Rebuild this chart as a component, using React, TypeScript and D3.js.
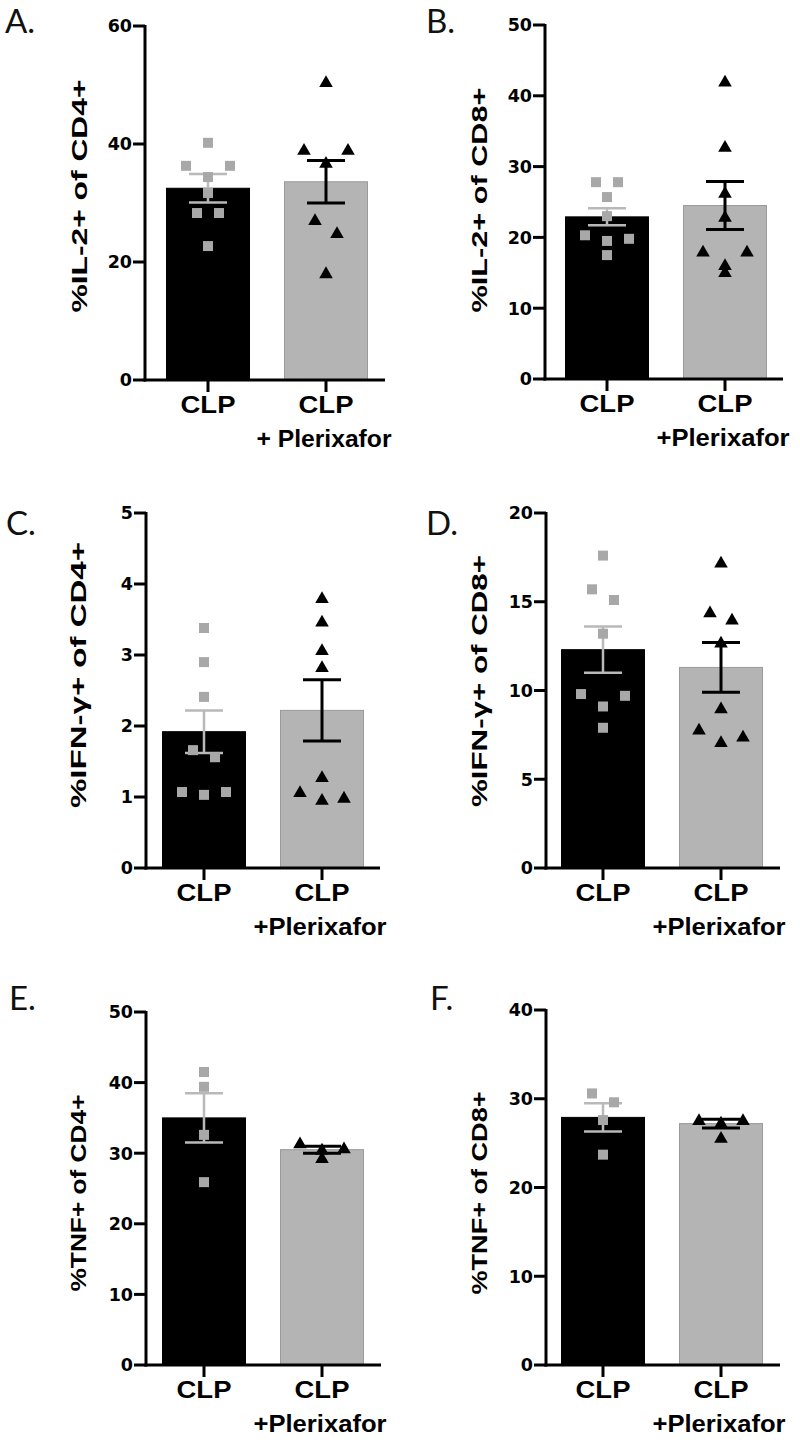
import React from 'react';
import * as d3 from 'd3';

// ---------- data ----------
const categories = ['CLP', 'CLP+Plerixafor'];
const catLine1 = ['CLP', 'CLP'];
const plxLine2 = ['+ Plerixafor', '+Plerixafor', '+Plerixafor', '+Plerixafor', '+Plerixafor', '+Plerixafor'];
const panelLetters = ['A.', 'B.', 'C.', 'D.', 'E.', 'F.'];
const yLabels = [
  '%IL-2+ of CD4+',
  '%IL-2+ of CD8+',
  '%IFN-γ+ of CD4+',
  '%IFN-γ+ of CD8+',
  '%TNF+ of CD4+',
  '%TNF+ of CD8+',
];
const yMax = [60, 50, 5, 20, 50, 40];
const yTickStep = [20, 10, 1, 5, 10, 10];

const clpMean = [32.5, 22.9, 1.92, 12.3, 35.0, 27.9];
const clpSem = [2.4, 1.2, 0.3, 1.3, 3.5, 1.6];
const plxMean = [33.6, 24.5, 2.22, 11.3, 30.5, 27.2];
const plxSem = [3.6, 3.4, 0.43, 1.4, 0.5, 0.5];

const clpPoints = [
  [40.2, 36.3, 36.3, 34.4, 31.7, 28.3, 28.3, 22.7],
  [27.8, 27.8, 25.7, 23.0, 20.3, 19.8, 19.5, 17.5],
  [3.38, 2.9, 2.41, 1.66, 1.56, 1.07, 1.03, 1.07],
  [17.6, 15.7, 15.1, 13.2, 9.8, 9.7, 9.1, 7.9],
  [41.5, 39.4, 32.6, 25.9],
  [30.6, 29.6, 27.6, 23.7],
];
const plxPoints = [
  [50.5, 39.0, 39.0, 36.8, 27.1, 24.9, 18.1],
  [42.0, 32.8, 26.3, 22.9, 18.0, 18.0, 16.1, 15.1],
  [3.8, 3.47, 3.07, 2.83, 1.28, 1.07, 0.99, 0.96],
  [17.2, 14.4, 14.0, 12.7, 9.0, 7.8, 7.4, 7.1],
  [31.4, 30.7, 30.5, 29.3],
  [27.6, 27.6, 27.3, 25.6],
];

// ---------- layout (positions / sizes) ----------
const layouts = [
  { axisX: 145, y0: 380, yTop: 26, c: [208, 326], xEnd: 385, lx: 5, ly: 33, labX: 87, labY: 196, labLen: 233, l2Len: 135 },
  { axisX: 545, y0: 379, yTop: 25, c: [607, 725], xEnd: 783, lx: 426, ly: 33, labX: 487, labY: 200, labLen: 225, l2Len: 133 },
  { axisX: 146, y0: 868, yTop: 513, c: [204, 322], xEnd: 380, lx: 6, ly: 535, labX: 86, labY: 675, labLen: 266, l2Len: 133 },
  { axisX: 546, y0: 868, yTop: 513, c: [603, 721], xEnd: 780, lx: 426, ly: 535, labX: 487, labY: 681, labLen: 252, l2Len: 133 },
  { axisX: 146, y0: 1365, yTop: 1012, c: [204, 322], xEnd: 381, lx: 9, ly: 1010, labX: 86, labY: 1193, labLen: 197, l2Len: 133 },
  { axisX: 546, y0: 1365, yTop: 1010, c: [603, 721], xEnd: 780, lx: 430, ly: 1010, labX: 487, labY: 1193, labLen: 203, l2Len: 133 },
];

const BAR_W = 83;
const CAP_W = 38;
const STEP = 22;
const ROW_TOL = 14;
const CLP_BAR = '#000000';
const PLX_BAR = '#b4b4b4';
const SQ_COLOR = '#a8a8a8';
const BOLD_FONT = "'Liberation Sans', Arial, sans-serif";
const TICK_FONT = "'DejaVu Sans', sans-serif";

// simple row-based scatter arrangement (points within one marker height share a row)
function swarm(values: number[], y: (v: number) => number) {
  const idx = values.map((v, i) => i).sort((a, b) => values[b] - values[a]);
  const offsets = new Array(values.length).fill(0);
  let row: number[] = [];
  const flush = () => {
    const n = row.length;
    // put the lowest value of an odd row in the centre, others on the sides
    const order = n % 2 === 1 && n > 1 ? [...row.slice(0, n - 1), row[n - 1]] : row;
    const slots = d3.range(n).map((i) => (i - (n - 1) / 2) * STEP);
    if (n % 2 === 1 && n > 1) {
      const centre = slots.splice((n - 1) / 2, 1)[0];
      slots.push(centre);
    }
    order.forEach((k, i) => {
      offsets[k] = slots[i];
    });
    row = [];
  };
  idx.forEach((k) => {
    if (row.length && Math.abs(y(values[k]) - y(values[row[0]])) >= ROW_TOL) flush();
    row.push(k);
  });
  flush();
  return offsets;
}

const squarePath = d3.symbol(d3.symbolSquare, 100)() as string;
const trianglePath = d3.symbol(d3.symbolTriangle, 80)() as string;

function Panel({ i }: { i: number }) {
  const L = layouts[i];
  const y = d3.scaleLinear().domain([0, yMax[i]]).range([L.y0, L.yTop]);
  const x = d3.scalePoint<string>().domain(categories).range([L.c[0], L.c[1]]);
  const ticks = d3.range(0, yMax[i] + yTickStep[i] / 2, yTickStep[i]);
  const means = [clpMean[i], plxMean[i]];
  const sems = [clpSem[i], plxSem[i]];
  const pts = [clpPoints[i], plxPoints[i]];
  const errColor = ['#b9b9b9', '#000'];
  const errWidth = [2.5, 3];

  return (
    <g>
      <text x={L.lx} y={L.ly} fontFamily="Lato, 'Open Sans', sans-serif" fontSize={33} fill="#111">
        {panelLetters[i]}
      </text>
      {/* bars */}
      {categories.map((c, k) => (
        <rect
          key={c}
          x={(x(c) as number) - BAR_W / 2}
          y={y(means[k])}
          width={BAR_W}
          height={L.y0 - y(means[k])}
          fill={k === 0 ? CLP_BAR : PLX_BAR}
          stroke={k === 0 ? CLP_BAR : '#9a9a9a'}
          strokeWidth={1}
        />
      ))}
      {/* error bars */}
      {categories.map((c, k) => {
        const cx = x(c) as number;
        const hi = y(means[k] + sems[k]);
        const lo = y(means[k] - sems[k]);
        return (
          <g key={'e' + c} stroke={errColor[k]} strokeWidth={errWidth[k]}>
            <line x1={cx} x2={cx} y1={hi} y2={lo} />
            <line x1={cx - CAP_W / 2} x2={cx + CAP_W / 2} y1={hi} y2={hi} />
            <line x1={cx - CAP_W / 2} x2={cx + CAP_W / 2} y1={lo} y2={lo} />
          </g>
        );
      })}
      {/* points */}
      {categories.map((c, k) => {
        const cx = x(c) as number;
        const offs = swarm(pts[k], y);
        return pts[k].map((v, j) => (
          <path
            key={c + j}
            d={k === 0 ? squarePath : trianglePath}
            transform={`translate(${cx + offs[j]},${y(v) + (k === 1 ? 1 : 0)})`}
            fill={k === 0 ? SQ_COLOR : '#000'}
          />
        ));
      })}
      {/* y axis */}
      <line x1={L.axisX} x2={L.axisX} y1={L.yTop - 1} y2={L.y0 + 1.5} stroke="#000" strokeWidth={3} />
      {ticks.map((t) => (
        <g key={t}>
          <line x1={L.axisX - 12} x2={L.axisX} y1={y(t)} y2={y(t)} stroke="#000" strokeWidth={3} />
          <text
            x={L.axisX - 13}
            y={y(t)}
            dy="0.36em"
            textAnchor="end"
            fontFamily={TICK_FONT}
            fontWeight="bold"
            fontSize={17.5}
            fill="#000"
          >
            {d3.format('d')(t)}
          </text>
        </g>
      ))}
      {/* x axis */}
      <line x1={L.axisX - 1.5} x2={L.xEnd} y1={L.y0} y2={L.y0} stroke="#000" strokeWidth={3} />
      {categories.map((c, k) => {
        const cx = x(c) as number;
        return (
          <g key={'x' + c}>
            <line x1={cx} x2={cx} y1={L.y0} y2={L.y0 + 12} stroke="#000" strokeWidth={3} />
            <text
              x={cx}
              y={L.y0 + 33}
              textAnchor="middle"
              fontFamily={BOLD_FONT}
              fontWeight="bold"
              fontSize={24}
              textLength={55}
              lengthAdjust="spacingAndGlyphs"
              fill="#000"
            >
              {catLine1[k]}
            </text>
            {k === 1 && (
              <text
                x={cx - 2}
                y={L.y0 + 67}
                textAnchor="middle"
                fontFamily={BOLD_FONT}
                fontWeight="bold"
                fontSize={23}
                textLength={L.l2Len}
                lengthAdjust="spacingAndGlyphs"
                fill="#000"
              >
                {plxLine2[i]}
              </text>
            )}
          </g>
        );
      })}
      {/* y label */}
      <text
        transform={`translate(${L.labX},${L.labY}) rotate(-90)`}
        textAnchor="middle"
        fontFamily={BOLD_FONT}
        fontWeight="bold"
        fontSize={22}
        textLength={L.labLen}
        lengthAdjust="spacingAndGlyphs"
        fill="#000"
      >
        {yLabels[i]}
      </text>
    </g>
  );
}

export default function App() {
  return (
    <svg
      width={800}
      height={1443}
      viewBox="0 0 800 1443"
      style={{ position: 'absolute', left: 0, top: 0, display: 'block', background: '#fff' }}
    >
      <rect x={0} y={0} width={800} height={1443} fill="#fff" />
      {layouts.map((_, i) => (
        <Panel key={i} i={i} />
      ))}
    </svg>
  );
}
